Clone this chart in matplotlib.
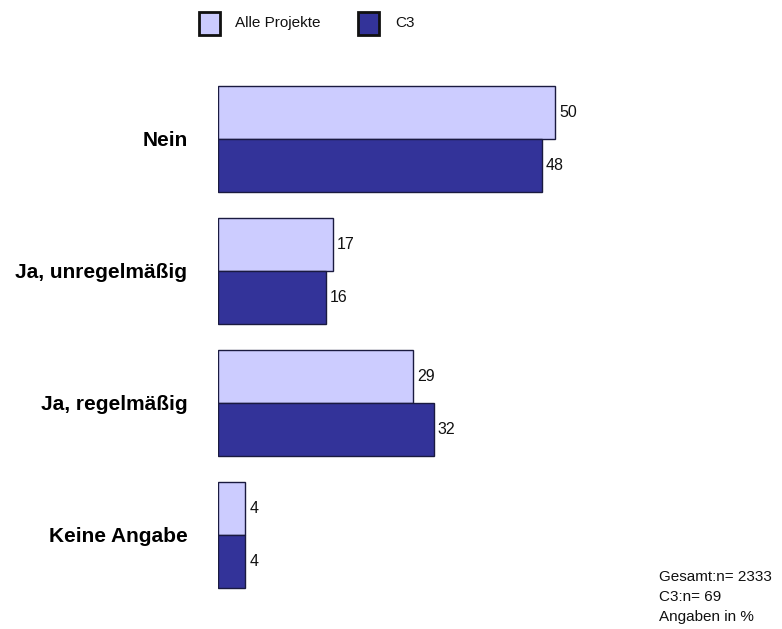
import numpy as np
import matplotlib.pyplot as plt
from matplotlib.patches import Rectangle

# Survey answers (percent)
categories = ["Nein", "Ja, unregelmäßig", "Ja, regelmäßig", "Keine Angabe"]
alle_projekte = [50, 17, 29, 4]
c3 = [48, 16, 32, 4]
series_names = ["Alle Projekte", "C3"]
footnote = ["Gesamt:n= 2333", "C3:n= 69", "Angaben in %"]

plt.rcParams['font.family'] = ['Liberation Sans', 'DejaVu Sans']

W, H = 782, 629
fig = plt.figure(figsize=(W / 100, H / 100), dpi=100)

# axes placed in pixel terms: bars start at x=218, 6.74 px per percent, 132 px per group
x0 = 218
px_per_unit = 6.74
xmax = 70
ax_top_px = 139 - 0.6 * 132
ax_h_px = 4.2 * 132
ax = fig.add_axes([x0 / W, 1 - (ax_top_px + ax_h_px) / H,
                   px_per_unit * xmax / W, ax_h_px / H])

light = "#ccccff"
dark = "#333399"
edge = "#1a1a40"
h = 0.40
y = np.arange(len(categories))

b1 = ax.barh(y - h / 2, alle_projekte, height=h, color=light,
             edgecolor=edge, linewidth=1.0, label=series_names[0])
b2 = ax.barh(y + h / 2, c3, height=h, color=dark,
             edgecolor=edge, linewidth=1.0, label=series_names[1])

for bars, vals in [(b1, alle_projekte), (b2, c3)]:
    for rect, v in zip(bars, vals):
        ax.annotate(f"{v}", (rect.get_width(), rect.get_y() + rect.get_height() / 2),
                    xytext=(3, 0), textcoords="offset points",
                    va="center", ha="left", fontsize=11.5, color="#111111")

ax.set_xlim(0, xmax)
ax.set_ylim(3.6, -0.6)
ax.set_yticks(y)
ax.set_yticklabels(categories, fontsize=15, fontweight="bold")
ax.tick_params(axis="y", length=0, pad=22)
ax.set_xticks([])
for s in ax.spines.values():
    s.set_visible(False)

# legend drawn by hand: two framed squares with their labels
legend_items = [(199, light, 235), (358, dark, 395)]
for (sx, col, tx), name in zip(legend_items, series_names):
    fig.patches.append(Rectangle((sx / W, 1 - 35 / H), 21 / W, 23 / H,
                                 transform=fig.transFigure, facecolor=col,
                                 edgecolor="#111111", linewidth=2))
    fig.text(tx / W, 1 - 23 / H, name, fontsize=11, ha="left", va="center",
             color="#111111")

for i, line in enumerate(footnote):
    fig.text(659 / W, 1 - (577 + 20 * i) / H, line, fontsize=11,
             ha="left", va="center", color="#111111")

fig.savefig("out.png", dpi=100)
